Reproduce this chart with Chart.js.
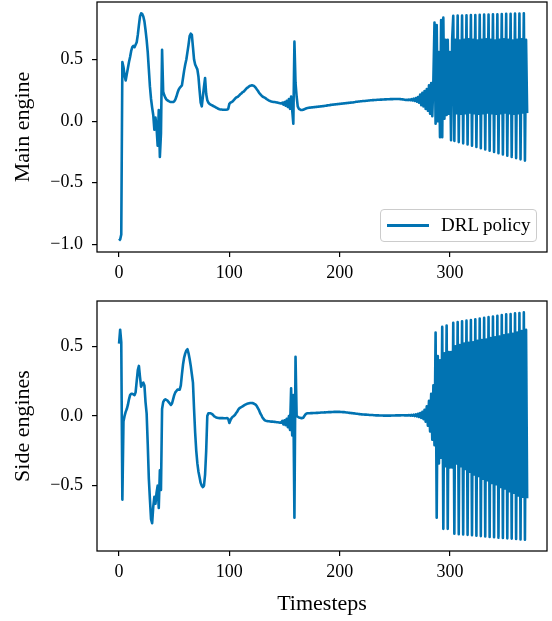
<!DOCTYPE html>
<html><head><meta charset="utf-8">
<script src="https://cdn.jsdelivr.net/npm/chart.js@4"></script>
<style>
html,body{margin:0;padding:0;background:#fff;}
#wrap{position:relative;width:552px;height:621px;overflow:hidden;}
#c1{position:absolute;left:0;top:0;}
#c2{position:absolute;left:0;top:290px;}
#legend{position:absolute;left:380px;top:209px;width:157px;height:33px;border:1px solid #cccccc;border-radius:4px;background:rgba(255,255,255,0.85);box-sizing:border-box;font-family:"Liberation Serif",serif;font-size:19px;color:#000;}
#legend .ln{position:absolute;left:6px;top:14px;width:42px;height:3px;background:#0173b2;}
#legend .tx{position:absolute;left:60px;top:4px;line-height:22px;white-space:nowrap;}
</style></head>
<body>
<div id="wrap">
<canvas id="c1" width="552" height="290"></canvas>
<canvas id="c2" width="552" height="331"></canvas>
<div id="legend"><div class="ln"></div><div class="tx">DRL policy</div></div>
</div>
<script>
const seriesName = 'DRL policy';
const xTicks = [0, 100, 200, 300];
const mainTicks = [-1.0, -0.5, 0.0, 0.5];
const sideTicks = [-0.5, 0.0, 0.5];

const mainEngine = [
-0.97,-0.96,-0.92,0.48,0.44,0.37,0.33,0.38,0.43,0.48,
0.52,0.57,0.60,0.61,0.60,0.62,0.64,0.70,0.78,0.85,
0.875,0.87,0.85,0.81,0.74,0.66,0.56,0.42,0.28,0.18,
0.11,0.05,-0.07,0.03,-0.05,-0.20,0.09,-0.29,-0.10,0.58,
0.24,0.21,0.19,0.175,0.168,0.162,0.158,0.155,0.155,0.155,
0.16,0.175,0.20,0.23,0.255,0.27,0.28,0.29,0.35,0.41,
0.46,0.50,0.56,0.62,0.69,0.71,0.70,0.60,0.50,0.46,
0.44,0.42,0.36,0.25,0.15,0.12,0.20,0.28,0.35,0.22,
0.17,0.15,0.14,0.135,0.13,0.125,0.12,0.115,0.11,0.105,
0.10,0.097,0.095,0.094,0.093,0.093,0.093,0.093,0.094,0.10,
0.14,0.15,0.155,0.16,0.17,0.18,0.19,0.195,0.20,0.21,
0.22,0.225,0.235,0.24,0.25,0.26,0.27,0.275,0.283,0.288,
0.29,0.29,0.288,0.28,0.27,0.257,0.245,0.23,0.22,0.21,
0.20,0.195,0.19,0.185,0.178,0.172,0.167,0.163,0.16,0.158,
0.156,0.155,0.153,0.151,0.15,0.148,0.146,0.143,0.15,0.135,
0.155,0.125,0.165,0.115,0.18,0.10,0.20,0.09,-0.02,0.645,
0.31,0.20,0.12,0.10,0.095,0.09,0.09,0.092,0.097,0.10,
0.105,0.107,0.109,0.11,0.111,0.112,0.113,0.114,0.115,0.116,
0.117,0.118,0.119,0.12,0.121,0.122,0.123,0.125,0.126,0.128,
0.129,0.13,0.132,0.133,0.134,0.135,0.136,0.137,0.138,0.139,
0.14,0.141,0.142,0.143,0.144,0.145,0.146,0.147,0.148,0.149,
0.15,0.151,0.152,0.154,0.155,0.157,0.158,0.159,0.16,0.161,
0.162,0.163,0.164,0.164,0.165,0.166,0.167,0.168,0.169,0.17,
0.171,0.171,0.172,0.172,0.173,0.174,0.174,0.175,0.175,0.176,
0.176,0.177,0.177,0.178,0.178,0.178,0.179,0.179,0.179,0.18,
0.18,0.18,0.18,0.18,0.18,0.179,0.178,0.177,0.176,0.174,
0.172,0.174,0.171,0.176,0.17,0.178,0.168,0.182,0.164,0.188,
0.158,0.195,0.15,0.215,0.13,0.23,0.12,0.245,0.10,0.26,
0.085,0.29,0.06,0.31,0.04,0.34,0.80,-0.02,0.78,0.0,
0.56,-0.13,0.82,-0.13,0.84,0.02,0.66,0.05,0.66,0.06,
0.56,-0.155,0.66,
0.855,-0.16,0.66,0.065, 0.857,-0.17,0.655,0.06, 0.858,-0.18,0.66,0.065, 0.86,-0.19,0.665,0.07,
0.861,-0.20,0.66,0.065, 0.862,-0.21,0.655,0.06, 0.864,-0.22,0.66,0.065, 0.865,-0.23,0.665,0.07,
0.866,-0.24,0.66,0.065, 0.867,-0.25,0.655,0.06, 0.868,-0.26,0.66,0.065, 0.87,-0.27,0.665,0.07,
0.871,-0.28,0.66,0.065, 0.872,-0.29,0.655,0.06, 0.873,-0.30,0.66,0.065, 0.874,-0.31,0.665,0.07,
0.875,-0.32,0.66,0.065
];

const sideEngines = [
0.52,0.62,0.53,-0.60,-0.04,0.0,0.03,0.05,0.08,0.12,
0.15,0.16,0.16,0.155,0.15,0.17,0.25,0.33,0.36,0.28,
0.21,0.23,0.24,0.22,0.10,0.02,-0.20,-0.45,-0.60,-0.74,
-0.77,-0.65,-0.58,-0.63,-0.55,-0.50,-0.66,-0.39,-0.53,0.05,
0.10,0.115,0.12,0.115,0.11,0.10,0.09,0.08,0.09,0.12,
0.15,0.17,0.18,0.19,0.19,0.19,0.22,0.30,0.37,0.42,
0.45,0.47,0.48,0.45,0.41,0.36,0.30,0.24,0.05,-0.12,
-0.25,-0.34,-0.40,-0.44,-0.48,-0.50,-0.51,-0.50,-0.42,-0.25,
0.0,0.02,0.02,0.02,0.015,0.01,0.0,-0.005,-0.01,-0.012,
-0.014,-0.015,-0.015,-0.015,-0.015,-0.016,-0.016,-0.016,-0.015,-0.02,
-0.05,-0.03,-0.015,-0.005,0.0,0.007,0.02,0.03,0.045,0.055,
0.06,0.065,0.07,0.075,0.08,0.084,0.088,0.09,0.092,0.094,
0.094,0.093,0.09,0.086,0.08,0.07,0.055,0.04,0.02,0.007,
-0.01,-0.02,-0.03,-0.033,-0.035,-0.037,-0.038,-0.039,-0.04,-0.04,
-0.041,-0.042,-0.043,-0.044,-0.045,-0.046,-0.047,-0.048,-0.035,-0.06,
-0.03,-0.065,-0.02,-0.08,0.0,-0.10,0.20,-0.14,0.15,-0.73,
0.425,0.0,-0.005,-0.01,-0.012,-0.015,-0.015,-0.012,0.0,0.012,
0.018,0.02,0.02,0.02,0.021,0.021,0.022,0.022,0.022,0.023,
0.023,0.024,0.024,0.025,0.025,0.025,0.026,0.026,0.027,0.027,
0.028,0.028,0.028,0.029,0.029,0.03,0.03,0.03,0.03,0.03,
0.03,0.029,0.029,0.028,0.028,0.027,0.026,0.025,0.024,0.023,
0.022,0.021,0.02,0.019,0.018,0.017,0.016,0.015,0.014,0.013,
0.012,0.011,0.011,0.01,0.01,0.009,0.009,0.008,0.008,0.007,
0.007,0.006,0.006,0.005,0.005,0.005,0.004,0.004,0.004,0.004,
0.003,0.003,0.003,0.003,0.003,0.003,0.003,0.004,0.004,0.004,
0.004,0.005,0.005,0.005,0.005,0.005,0.006,0.006,0.006,0.005,
0.005,0.006,0.004,0.007,0.003,0.008,0.002,0.01,0.0,0.012,
-0.003,0.016,-0.007,0.022,-0.013,0.03,-0.022,0.045,-0.04,0.07,
-0.07,0.11,-0.11,0.16,-0.17,0.22,-0.21,0.60,-0.73,0.43,
-0.34,0.40,-0.30,0.64,-0.81,0.45,-0.36,0.65,-0.81,0.46,
-0.37,0.46,-0.37,
0.67,-0.845,0.50,-0.34, 0.675,-0.848,0.51,-0.36, 0.68,-0.85,0.52,-0.38, 0.685,-0.853,0.525,-0.40,
0.69,-0.856,0.53,-0.42, 0.695,-0.86,0.54,-0.43, 0.70,-0.862,0.545,-0.45, 0.705,-0.865,0.55,-0.46,
0.71,-0.868,0.56,-0.48, 0.715,-0.87,0.565,-0.49, 0.72,-0.873,0.57,-0.51, 0.725,-0.876,0.58,-0.52,
0.73,-0.878,0.585,-0.54, 0.733,-0.88,0.59,-0.55, 0.737,-0.883,0.60,-0.57, 0.74,-0.886,0.61,-0.58,
0.744,-0.888,0.62,-0.59
];

const timesteps = mainEngine.map((_, i) => i);
const LINE = '#0173b2';
const FONT = '"Liberation Serif", "Times New Roman", serif';
Chart.defaults.font.family = FONT;
Chart.defaults.color = '#000';

const frame = {
  id: 'frame',
  afterDraw(chart) {
    const { ctx, chartArea: a } = chart;
    ctx.save();
    ctx.strokeStyle = '#000';
    ctx.lineWidth = 1.25;
    ctx.strokeRect(a.left, a.top, a.right - a.left, a.bottom - a.top);
    ctx.restore();
  }
};

function fmt(v) {
  return v < 0 ? '\u2212' + Math.abs(v).toFixed(1) : v.toFixed(1);
}

function makeChart(id, values, yMin, yMax, yTicks, yTitle, xTitle, padTop, xAxisH) {
  return new Chart(document.getElementById(id), {
    type: 'line',
    data: {
      datasets: [{
        label: seriesName,
        data: values.map((v, i) => ({ x: timesteps[i], y: v })),
        borderColor: LINE,
        borderWidth: 2.6,
        pointRadius: 0,
        tension: 0,
        fill: false,
        borderJoinStyle: 'round',
        borderCapStyle: 'butt'
      }]
    },
    options: {
      responsive: false,
      animation: false,
      events: [],
      layout: { padding: { left: 0, right: 5, top: padTop, bottom: 0 } },
      plugins: { legend: { display: false }, tooltip: { enabled: false } },
      scales: {
        x: {
          type: 'linear', min: -20, max: 388,
          afterBuildTicks: s => { s.ticks = xTicks.map(v => ({ value: v })); },
          afterFit: s => { s.height = xAxisH; s.paddingLeft = 0; s.paddingRight = 0; s.paddingTop = 0; s.paddingBottom = 0; },
          grid: { drawOnChartArea: false, drawTicks: true, tickLength: 5, color: '#000', lineWidth: 1.2 },
          border: { display: false },
          ticks: { color: '#000', font: { size: 18 }, padding: 5, maxRotation: 0, autoSkip: false,
                   callback: v => String(v) },
          title: { display: !!xTitle, text: xTitle || '', color: '#000', font: { size: 22 }, padding: { top: 0, bottom: 4 } }
        },
        y: {
          type: 'linear', min: yMin, max: yMax,
          afterBuildTicks: s => { s.ticks = yTicks.map(v => ({ value: v })); },
          afterFit: s => { s.width = 97; s.paddingTop = 0; s.paddingBottom = 0; s.paddingLeft = 0; s.paddingRight = 0; },
          grid: { drawOnChartArea: false, drawTicks: true, tickLength: 5, color: '#000', lineWidth: 1.2 },
          border: { display: false },
          ticks: { color: '#000', font: { size: 18 }, padding: 9, autoSkip: false, callback: v => fmt(v) },
          title: { display: true, text: yTitle, color: '#000', font: { size: 22 }, padding: { top: 10, bottom: 0 } }
        }
      }
    },
    plugins: [frame]
  });
}

makeChart('c1', mainEngine, -1.062, 0.967, mainTicks, 'Main engine', null, 2, 38);
makeChart('c2', sideEngines, -0.969, 0.826, sideTicks, 'Side engines', 'Timesteps', 11, 70);
</script>
</body></html>
